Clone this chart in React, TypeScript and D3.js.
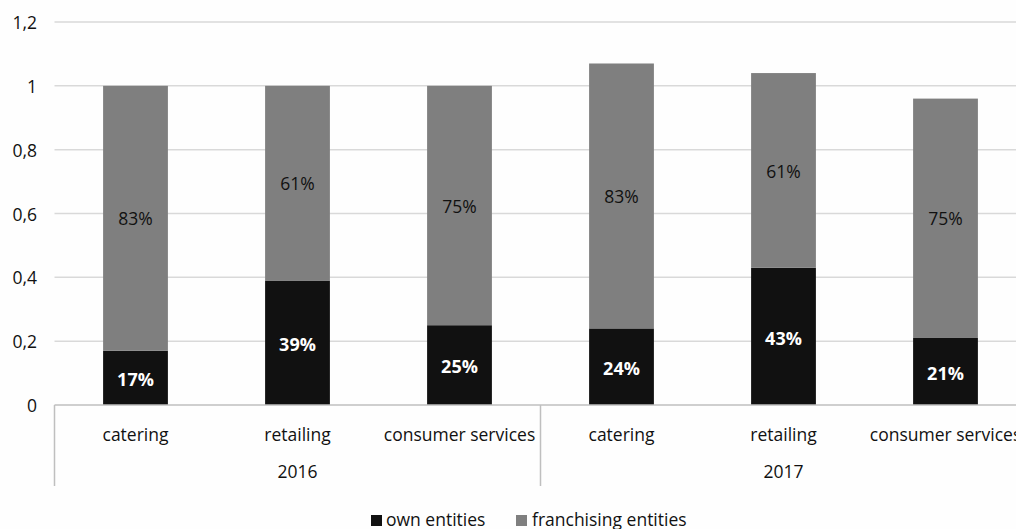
import React from "react";
import * as d3 from "d3";

const years = ["2016", "2017"];
const categories = ["catering", "retailing", "consumer services"];
const ownValues = [0.17, 0.39, 0.25, 0.24, 0.43, 0.21];
const franchisingValues = [0.83, 0.61, 0.75, 0.83, 0.61, 0.75];
const ownLabels = ["17%", "39%", "25%", "24%", "43%", "21%"];
const franchisingLabels = ["83%", "61%", "75%", "83%", "61%", "75%"];
const yTicks = [0, 0.2, 0.4, 0.6, 0.8, 1, 1.2];
const seriesNames = ["own entities", "franchising entities"];
const seriesColors = ["#111111", "#7f7f7f"];

const W = 1016;
const H = 529;
const FONT = "'Open Sans', 'Noto Sans', sans-serif";

export default function App() {
  const left = 54.5;
  const step = 162;
  const x = d3
    .scaleBand<number>()
    .domain(d3.range(6))
    .range([left, left + step * 6])
    .paddingInner(0.6)
    .paddingOuter(0.3);
  const y = d3.scaleLinear().domain([0, 1.2]).range([405, 22]);
  const fmt = (v: number) => String(+v.toFixed(1)).replace(".", ",");

  const rows = d3.range(6).map((i) => ({
    i,
    own: ownValues[i],
    fr: franchisingValues[i],
  }));
  const stack = d3.stack<any>().keys(["own", "fr"])(rows);

  return (
    <svg
      width={W}
      height={H}
      style={{ position: "absolute", left: 0, top: 0, background: "#fefefe" }}
      fontFamily={FONT}
    >
      <rect width={W} height={H} fill="#fefefe" />
      {yTicks.map((t) =>
        t === 0 ? null : (
          <line key={t} x1={left} x2={W} y1={y(t)} y2={y(t)} stroke="#d9d9d9" strokeWidth={1.5} />
        )
      )}
      {yTicks.map((t) => (
        <text key={"l" + t} x={37} y={y(t) + 1} dy="0.35em" textAnchor="end" fontSize={17.5} fill="#111">
          {fmt(t)}
        </text>
      ))}
      {stack.map((layer, si) =>
        layer.map((d, i) => (
          <rect
            key={si + "-" + i}
            x={x(i)}
            width={x.bandwidth()}
            y={y(d[1])}
            height={y(d[0]) - y(d[1])}
            fill={seriesColors[si]}
          />
        ))
      )}
      {stack[0].map((d, i) => (
        <text
          key={"o" + i}
          x={x(i)! + x.bandwidth() / 2}
          y={(y(d[0]) + y(d[1])) / 2 + 2}
          dy="0.35em"
          textAnchor="middle"
          fontSize={18}
          fontWeight="bold"
          fill="#fff"
        >
          {ownLabels[i]}
        </text>
      ))}
      {stack[1].map((d, i) => (
        <text
          key={"f" + i}
          x={x(i)! + x.bandwidth() / 2}
          y={(y(d[0]) + y(d[1])) / 2 + 1}
          dy="0.35em"
          textAnchor="middle"
          fontSize={17.5}
          fill="#111"
        >
          {franchisingLabels[i]}
        </text>
      ))}
      <line x1={left} x2={W} y1={y(0)} y2={y(0)} stroke="#bfbfbf" strokeWidth={1.5} />
      {[0, 1].map((g) => (
        <line
          key={"v" + g}
          x1={left + g * step * 3}
          x2={left + g * step * 3}
          y1={y(0)}
          y2={486}
          stroke="#bfbfbf"
          strokeWidth={1.5}
        />
      ))}
      {d3.range(6).map((i) => (
        <text
          key={"c" + i}
          x={x(i)! + x.bandwidth() / 2}
          y={435}
          dy="0.35em"
          textAnchor="middle"
          fontSize={17.5}
          fill="#111"
        >
          {categories[i % 3]}
        </text>
      ))}
      {years.map((yr, g) => (
        <text
          key={yr}
          x={left + step * 3 * g + step * 1.5}
          y={472}
          dy="0.35em"
          textAnchor="middle"
          fontSize={17.5}
          fill="#111"
        >
          {yr}
        </text>
      ))}
      <g>
        <rect x={371} y={515} width={11} height={11} fill={seriesColors[0]} />
        <text x={386} y={520} dy="0.35em" fontSize={17.5} fill="#111">
          {seriesNames[0]}
        </text>
        <rect x={516} y={515} width={11} height={11} fill={seriesColors[1]} />
        <text x={532} y={520} dy="0.35em" fontSize={17.5} fill="#111">
          {seriesNames[1]}
        </text>
      </g>
    </svg>
  );
}
